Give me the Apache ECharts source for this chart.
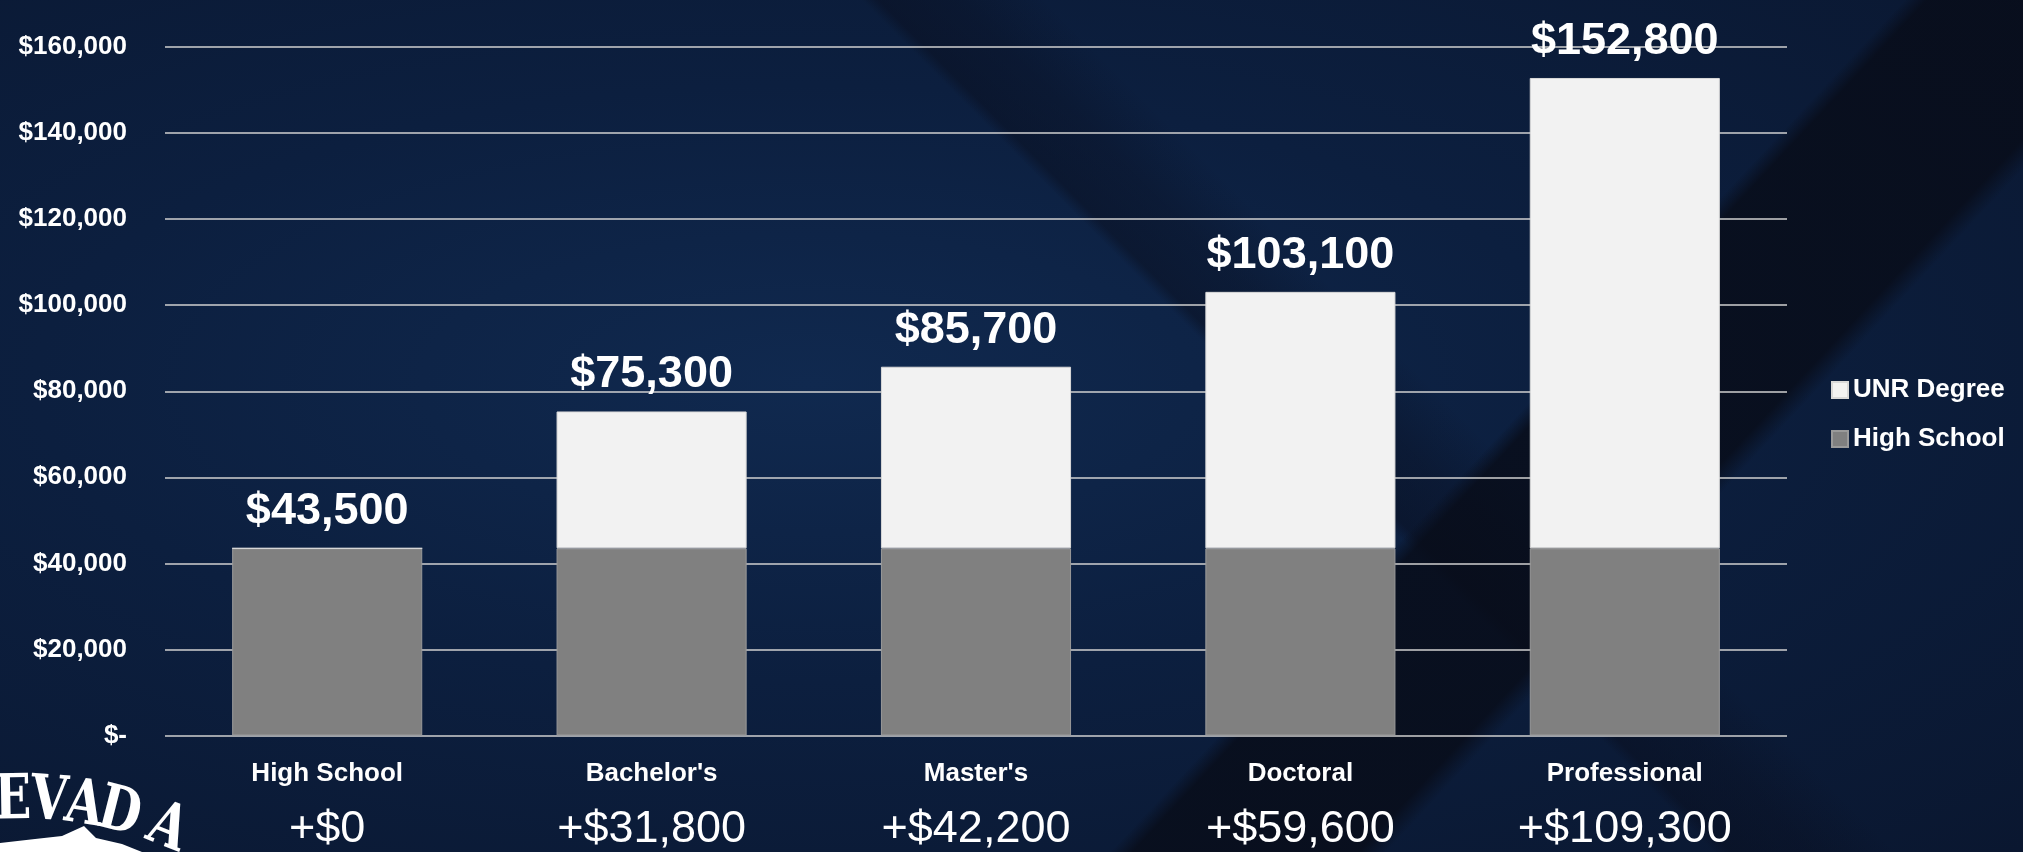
<!DOCTYPE html>
<html>
<head>
<meta charset="utf-8">
<title>Median earnings by degree</title>
<script src="https://cdn.jsdelivr.net/npm/echarts@6/dist/echarts.min.js"></script>
<style>
    html, body { margin: 0; padding: 0; width: 2023px; height: 852px; overflow: hidden; background: #0b1a36; }
    /* dark navy slide background with the diagonal bands */
    #chart {
        width: 2023px;
        height: 852px;
        background:
            linear-gradient(133deg, rgba(0,0,0,0) 67.6%, rgba(8,12,24,0.8) 68.4%, rgba(8,12,24,0.8) 76.4%, rgba(0,0,0,0) 77.4%),
            linear-gradient(45deg, rgba(0,0,0,0) 59.6%, rgba(9,14,30,0.5) 60.2%, rgba(9,14,30,0.35) 63%, rgba(0,0,0,0) 66%),
            radial-gradient(ellipse at 40% 45%, #10294f 0%, #0c1f3f 45%, #0a1730 100%);
    }
</style>
</head>
<body>
<div id="chart"></div>
<script>
// data
var categories = ['High School', "Bachelor's", "Master's", 'Doctoral', 'Professional'];
var highSchool = [43500, 43500, 43500, 43500, 43500];   // base (grey)
var unrPremium = [0, 31800, 42200, 59600, 109300];      // extra from the degree (white)
var seriesNames = ['High School', 'UNR Degree'];
var legendOrder = ['UNR Degree', 'High School'];

function money(v) {
    return '$' + Number(v).toLocaleString('en-US');
}

// "NEVADA" arc + top of the wolf in the bottom left corner (decoration only)
var logoLetters = ['N', 'E', 'V', 'A', 'D', 'A'];
var logoX = [-24, 13, 49, 84, 119, 167];
var logo = [];
for (var i = 0; i < logoLetters.length; i++) {
    var th = Math.asin((logoX[i] - 20) / 400);
    logo.push({
        type: 'text',
        x: logoX[i],
        y: 1200 - 400 * Math.cos(th) + 2,
        rotation: -th,
        scaleX: 0.78,
        silent: true,
        style: {
            text: logoLetters[i],
            fill: '#ffffff',
            font: 'bold 62px "DejaVu Serif"',
            textAlign: 'center',
            textVerticalAlign: 'middle'
        }
    });
}
logo.push({
    type: 'polygon',
    silent: true,
    shape: { points: [[0, 852], [0, 843], [35, 839], [62, 836], [84, 826], [96, 838], [122, 844], [142, 852]] },
    style: { fill: '#ffffff' }
});

var chart = echarts.init(document.getElementById('chart'));

var option = {
    animation: false,
    backgroundColor: 'transparent',
    textStyle: { fontFamily: '"Liberation Sans", Arial, sans-serif' },
    grid: { left: 165, right: 236, top: 47, bottom: 116, containLabel: false },
    legend: {
        data: legendOrder,
        orient: 'vertical',
        left: 1826,
        top: 372,
        icon: 'rect',
        itemWidth: 16,
        itemHeight: 16,
        itemGap: 23,
        textStyle: { color: '#ffffff', fontSize: 26, fontWeight: 'bold' }
    },
    xAxis: {
        type: 'category',
        data: categories,
        axisLine: { show: false },
        axisTick: { show: false },
        axisLabel: {
            margin: 18,
            color: '#ffffff',
            formatter: function (v, idx) {
                return '{name|' + v + '}\n{gain|+' + money(unrPremium[idx]) + '}';
            },
            rich: {
                name: { fontSize: 26, fontWeight: 'bold', color: '#ffffff', lineHeight: 40 },
                gain: { fontSize: 45, color: '#ffffff', lineHeight: 72 }
            }
        }
    },
    yAxis: {
        type: 'value',
        min: 0,
        max: 160000,
        interval: 20000,
        axisLine: { show: false },
        axisTick: { show: false },
        splitLine: { lineStyle: { color: '#d0d0d0', width: 1.5 } },
        axisLabel: {
            margin: 38,
            color: '#ffffff',
            fontSize: 26,
            fontWeight: 'bold',
            formatter: function (v) { return v === 0 ? '$-' : money(v); }
        }
    },
    series: [
        {
            name: seriesNames[0],
            type: 'bar',
            stack: 'pay',
            barWidth: '58.6%',
            itemStyle: { color: '#808080', borderColor: '#9a9a9a', borderWidth: 1 },
            data: highSchool
        },
        {
            name: seriesNames[1],
            type: 'bar',
            stack: 'pay',
            barWidth: '58.6%',
            itemStyle: { color: '#f2f2f2', borderColor: '#d9d9d9', borderWidth: 1 },
            label: {
                show: true,
                position: 'top',
                distance: 14,
                color: '#ffffff',
                fontSize: 45,
                fontWeight: 'bold',
                formatter: function (p) {
                    return money(highSchool[p.dataIndex] + unrPremium[p.dataIndex]);
                }
            },
            data: unrPremium
        }
    ],
    graphic: logo
};

chart.setOption(option);
</script>
</body>
</html>
